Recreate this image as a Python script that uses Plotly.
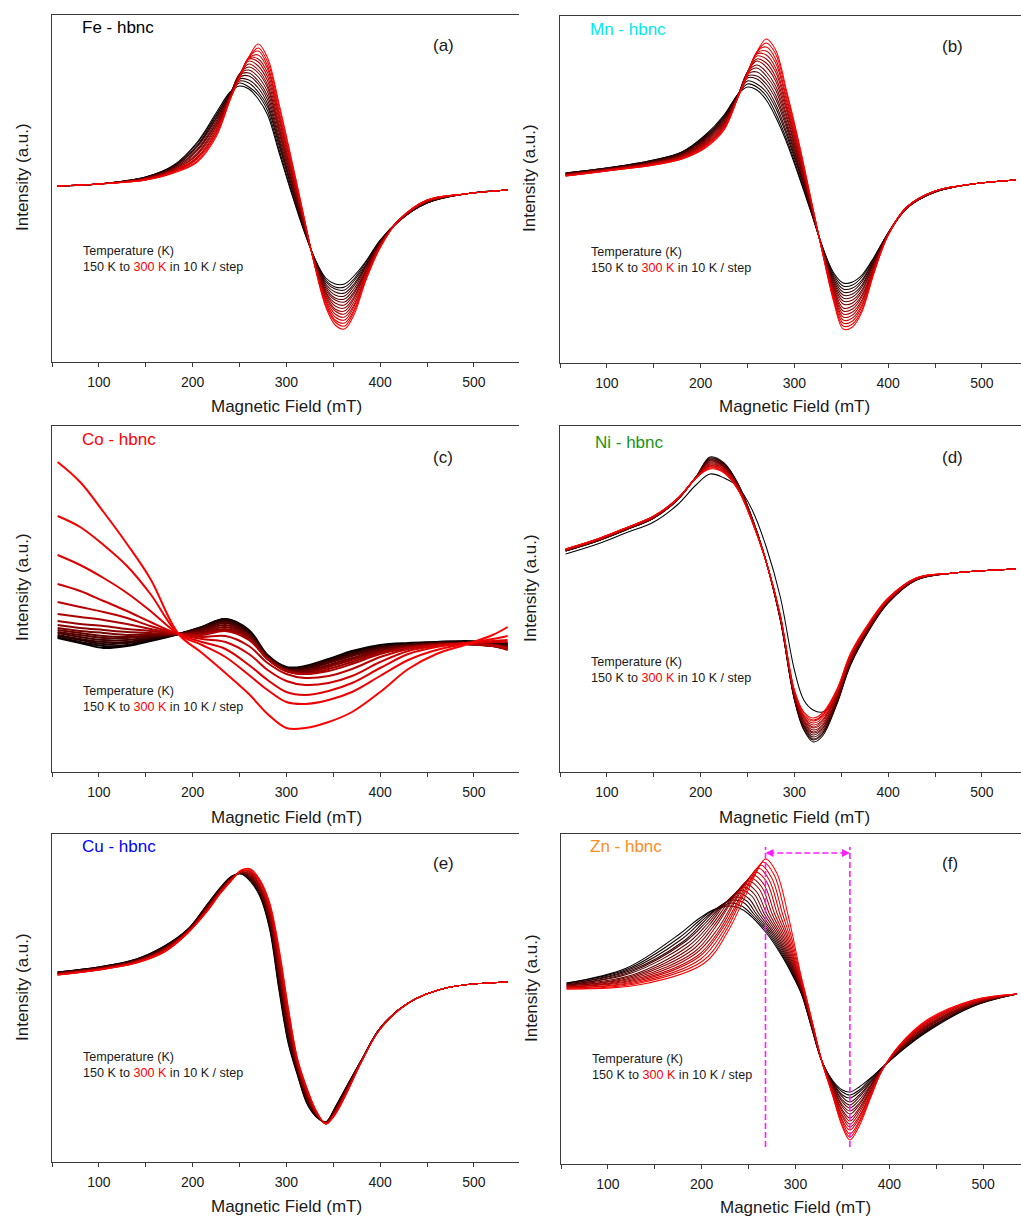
import plotly.graph_objects as go

W, H = 1021, 1216
FONT = "Liberation Sans, Arial, Helvetica, sans-serif"

temperatures_K = [150, 160, 170, 180, 190, 200, 210, 220, 230, 240, 250, 260, 270, 280, 290, 300]

# ---------------- (a) Fe - hbnc : intensity (a.u.) at each field, for the 16 temperatures ----------------
fe_field_mT = [56, 100, 150, 180, 205, 225, 240, 250, 260, 270, 280, 292, 305, 318, 330, 342, 352, 362, 372, 385,
               400, 420, 450, 490, 536]
fe_intensity_by_field = [
    [2] * 16,
    [4] * 16,
    [11, 11, 11, 10, 10, 10, 10, 10, 9, 9, 9, 9, 9, 8, 8, 8],
    [23, 22, 22, 21, 21, 20, 20, 19, 19, 18, 18, 17, 17, 16, 16, 15],
    [46, 45, 43, 42, 41, 39, 38, 37, 35, 34, 33, 31, 30, 29, 27, 26],
    [75, 73, 72, 70, 69, 67, 65, 64, 62, 61, 59, 57, 56, 54, 53, 51],
    [96, 95, 95, 94, 94, 93, 93, 92, 92, 91, 91, 90, 90, 89, 89, 88],
    [102, 105, 107, 109, 111, 113, 114, 114, 114, 113, 112, 111, 110, 110, 110, 110],
    [99, 101, 105, 108, 112, 115, 118, 121, 124, 127, 129, 130, 130, 131, 131, 131],
    [89, 93, 96, 100, 104, 107, 111, 115, 118, 122, 126, 129, 133, 137, 140, 144],
    [73, 77, 81, 84, 88, 92, 96, 100, 103, 107, 111, 115, 119, 122, 126, 130],
    [36, 39, 43, 46, 49, 52, 56, 59, 62, 65, 69, 72, 75, 78, 82, 85],
    [-4, -2, 1, 3, 5, 8, 10, 12, 15, 17, 19, 22, 24, 26, 29, 31],
    [-41, -40, -39, -38, -37, -36, -35, -34, -32, -31, -30, -29, -28, -27, -26, -25],
    [-70, -70, -71, -71, -72, -72, -73, -73, -74, -74, -75, -75, -76, -76, -77, -77],
    [-90, -92, -94, -96, -98, -100, -102, -104, -105, -107, -109, -111, -113, -115, -117, -119],
    [-96, -99, -101, -104, -107, -110, -112, -115, -118, -121, -123, -126, -129, -132, -134, -137],
    [-96, -99, -102, -105, -108, -111, -114, -117, -120, -123, -126, -129, -132, -135, -138, -141],
    [-88, -91, -93, -96, -98, -101, -104, -106, -109, -111, -114, -117, -119, -122, -124, -127],
    [-73, -74, -76, -77, -78, -79, -81, -82, -83, -84, -86, -87, -88, -89, -91, -92],
    [-52, -53, -53, -54, -54, -55, -55, -56, -56, -57, -57, -58, -58, -59, -59, -60],
    [-33, -33, -33, -33, -33, -33, -33, -33, -32, -32, -32, -32, -32, -32, -32, -32],
    [-15, -15, -15, -14, -14, -14, -14, -14, -13, -13, -13, -13, -13, -12, -12, -12],
    [-6] * 16,
    [-2] * 16,
]

# ---------------- (b) Mn - hbnc ----------------
mn_field_mT = [56, 100, 150, 180, 205, 225, 240, 250, 260, 270, 280, 292, 305, 318, 330, 342, 352, 362, 372, 385,
               400, 420, 450, 490, 536]
mn_intensity_by_field = [
    [9, 9, 9, 8, 8, 8, 8, 8, 7, 7, 7, 7, 7, 6, 6, 6],
    [14, 14, 14, 13, 13, 13, 13, 13, 12, 12, 12, 12, 12, 11, 11, 11],
    [22, 22, 21, 21, 21, 20, 20, 20, 19, 19, 19, 18, 18, 18, 17, 17],
    [30, 30, 29, 29, 28, 28, 27, 27, 26, 26, 25, 25, 24, 24, 23, 23],
    [47, 46, 45, 44, 44, 43, 42, 41, 40, 39, 38, 37, 37, 36, 35, 34],
    [67, 66, 65, 64, 63, 62, 61, 60, 59, 58, 57, 56, 55, 54, 53, 52],
    [88, 88, 88, 87, 87, 87, 87, 87, 86, 86, 86, 86, 86, 85, 85, 85],
    [95, 98, 101, 104, 106, 108, 109, 110, 110, 110, 110, 109, 108, 107, 107, 107],
    [92, 95, 98, 103, 106, 110, 114, 117, 121, 123, 126, 128, 129, 130, 130, 130],
    [82, 86, 90, 94, 98, 102, 106, 110, 115, 119, 123, 127, 131, 135, 139, 143],
    [65, 69, 74, 78, 83, 87, 92, 96, 101, 105, 110, 114, 119, 123, 128, 132],
    [39, 42, 46, 49, 53, 56, 59, 63, 66, 70, 73, 76, 80, 83, 87, 90],
    [5, 7, 10, 12, 14, 16, 19, 21, 23, 25, 28, 30, 32, 35, 37, 39],
    [-31, -30, -29, -28, -28, -27, -26, -25, -24, -23, -22, -21, -21, -20, -19, -18],
    [-65, -65, -66, -66, -67, -67, -67, -68, -68, -69, -69, -69, -70, -70, -71, -71],
    [-91, -93, -95, -97, -99, -101, -103, -105, -106, -108, -110, -112, -114, -116, -118, -120],
    [-101, -104, -107, -110, -113, -116, -119, -122, -126, -129, -132, -135, -138, -141, -144, -147],
    [-100, -103, -106, -109, -112, -115, -118, -121, -124, -127, -130, -133, -136, -139, -142, -145],
    [-93, -95, -98, -100, -103, -105, -108, -110, -113, -115, -118, -120, -123, -125, -128, -130],
    [-75, -76, -77, -78, -79, -80, -81, -82, -84, -85, -86, -87, -88, -89, -90, -91],
    [-51, -51, -51, -51, -52, -52, -52, -52, -52, -52, -52, -52, -53, -53, -53, -53],
    [-26, -26, -26, -26, -26, -26, -26, -26, -25, -25, -25, -25, -25, -25, -25, -25],
    [-10, -10, -10, -10, -10, -10, -10, -10, -9, -9, -9, -9, -9, -9, -9, -9],
    [-2] * 16,
    [2] * 16,
]

# ---------------- (c) Co - hbnc : one row per temperature ----------------
co_field_mT = [56, 80, 105, 130, 155, 185, 210, 235, 260, 280, 300, 320, 345, 370, 400, 430, 460, 490, 520, 536]
co_intensity_by_temp = [
    [-4, -9, -14, -12, -7, 0, 7, 15, 4, -21, -33, -32, -25, -17, -11, -9, -8, -7, -8, -9],
    [-3, -8, -12, -11, -6, 0, 7, 15, 3, -22, -34, -33, -26, -18, -12, -10, -8, -8, -9, -10],
    [-2, -6, -10, -9, -5, 0, 6, 14, 2, -22, -34, -33, -26, -19, -13, -10, -9, -8, -9, -10],
    [-1, -5, -8, -8, -4, 0, 6, 13, 1, -23, -35, -34, -27, -20, -13, -11, -9, -9, -10, -11],
    [1, -3, -6, -6, -3, 0, 5, 12, 0, -23, -35, -35, -28, -21, -14, -11, -9, -9, -10, -12],
    [2, -1, -4, -4, -2, 0, 4, 11, -1, -24, -36, -36, -29, -22, -15, -12, -10, -9, -11, -12],
    [4, 1, -2, -3, -1, 0, 3, 9, -2, -24, -36, -37, -31, -24, -16, -12, -10, -10, -11, -13],
    [6, 3, 1, -1, 0, 0, 2, 7, -3, -25, -37, -38, -32, -25, -17, -13, -10, -10, -12, -14],
    [9, 6, 4, 2, 1, 0, 1, 5, -4, -25, -37, -39, -33, -26, -18, -13, -11, -10, -12, -15],
    [13, 10, 8, 5, 3, 0, 0, 4, -5, -25, -37, -40, -35, -28, -19, -14, -11, -10, -12, -15],
    [20, 17, 14, 10, 5, 0, -1, 3, -6, -25, -37, -40, -37, -30, -20, -14, -11, -10, -12, -16],
    [32, 27, 22, 16, 8, 0, -3, -2, -12, -29, -40, -44, -42, -35, -23, -15, -11, -10, -11, -14],
    [50, 43, 33, 23, 12, 0, -5, -8, -20, -36, -47, -51, -49, -42, -28, -17, -12, -9, -8, -8],
    [79, 69, 56, 41, 23, 0, -8, -15, -31, -46, -58, -61, -57, -49, -34, -20, -13, -9, -7, -6],
    [118, 107, 89, 68, 40, 0, -11, -23, -41, -56, -68, -70, -66, -58, -42, -26, -16, -10, -5, -2],
    [172, 152, 122, 90, 55, 0, -19, -39, -60, -80, -94, -94, -88, -78, -58, -35, -20, -11, -1, 7],
]

# ---------------- (d) Ni - hbnc ----------------
ni_field_mT = [56, 90, 120, 150, 175, 195, 210, 225, 240, 255, 270, 285, 300, 310, 320, 330, 345, 360, 380, 400,
               430, 470, 536]
ni_intensity_by_field = [
    [16, 19, 19, 19, 19, 20, 20, 20, 20, 20, 20, 20, 21, 21, 21, 21],
    [26, 29, 29, 29, 29, 30, 30, 30, 30, 30, 30, 30, 31, 31, 31, 31],
    [37, 40, 40, 40, 40, 41, 41, 41, 41, 41, 41, 41, 42, 42, 42, 42],
    [48, 52, 52, 52, 52, 53, 53, 53, 53, 53, 53, 53, 54, 54, 54, 54],
    [65, 70, 70, 70, 70, 70, 70, 70, 70, 71, 71, 71, 71, 71, 71, 71],
    [85, 93, 93, 93, 93, 93, 93, 93, 93, 92, 92, 92, 92, 92, 92, 92],
    [96, 113, 112, 111, 110, 110, 109, 108, 107, 106, 105, 104, 104, 103, 102, 101],
    [92, 107, 106, 106, 105, 104, 103, 103, 102, 101, 101, 100, 99, 98, 98, 97],
    [83, 86, 86, 85, 85, 84, 84, 83, 83, 83, 82, 82, 81, 81, 80, 80],
    [60, 52, 52, 51, 51, 51, 51, 50, 50, 50, 49, 49, 49, 49, 48, 48],
    [23, 8, 8, 8, 8, 8, 8, 8, 8, 8, 8, 8, 8, 8, 8, 8],
    [-27, -50, -50, -49, -49, -49, -48, -48, -48, -47, -47, -46, -46, -46, -45, -45],
    [-100, -130, -129, -129, -128, -127, -126, -126, -125, -124, -124, -123, -122, -121, -121, -120],
    [-130, -160, -159, -157, -156, -155, -154, -152, -151, -150, -148, -147, -146, -145, -143, -142],
    [-140, -172, -170, -169, -167, -165, -163, -162, -160, -158, -157, -155, -153, -151, -150, -148],
    [-142, -166, -164, -163, -161, -159, -158, -156, -155, -153, -151, -150, -148, -146, -145, -143],
    [-128, -135, -134, -133, -132, -131, -130, -129, -128, -126, -125, -124, -123, -122, -121, -120],
    [-88, -95, -94, -93, -92, -92, -91, -90, -89, -88, -87, -86, -86, -85, -84, -83],
    [-55, -60, -59, -59, -58, -58, -57, -57, -56, -55, -55, -54, -54, -53, -53, -52],
    [-30, -33, -33, -32, -32, -32, -31, -31, -31, -30, -30, -30, -29, -29, -28, -28],
    [-9, -10, -10, -10, -10, -9, -9, -9, -9, -9, -9, -9, -8, -8, -8, -8],
    [-3] * 16,
    [1] * 16,
]

# ---------------- (e) Cu - hbnc ----------------
cu_field_mT = [56, 100, 140, 170, 195, 215, 230, 242, 252, 262, 272, 282, 292, 302, 312, 322, 332, 342, 352, 365,
               380, 400, 430, 470, 536]
cu_intensity_by_field = [
    [10, 10, 10, 9, 9, 9, 9, 9, 8, 8, 8, 8, 8, 7, 7, 7],
    [15, 15, 15, 14, 14, 14, 14, 14, 13, 13, 13, 13, 13, 12, 12, 12],
    [23, 23, 22, 22, 22, 22, 21, 21, 21, 21, 20, 20, 20, 20, 19, 19],
    [36, 36, 35, 35, 34, 34, 34, 33, 33, 32, 32, 32, 31, 31, 30, 30],
    [53, 53, 52, 52, 52, 52, 51, 51, 51, 51, 50, 50, 50, 50, 49, 49],
    [77, 77, 76, 76, 75, 75, 74, 74, 73, 73, 72, 72, 71, 71, 70, 70],
    [95, 95, 94, 94, 93, 93, 93, 92, 92, 91, 91, 91, 90, 90, 89, 89],
    [106, 106, 105, 105, 105, 105, 104, 104, 104, 104, 103, 103, 103, 103, 102, 102],
    [108, 108, 109, 109, 109, 109, 110, 110, 110, 110, 111, 111, 111, 111, 112, 112],
    [100, 101, 102, 103, 103, 104, 105, 106, 107, 108, 109, 110, 110, 111, 112, 113],
    [85, 86, 87, 88, 90, 91, 92, 93, 94, 95, 96, 97, 99, 100, 101, 102],
    [53, 55, 57, 58, 60, 62, 64, 66, 67, 69, 71, 73, 75, 76, 78, 80],
    [-8, -5, -2, 1, 3, 6, 9, 12, 15, 18, 21, 24, 26, 29, 32, 35],
    [-62, -60, -57, -55, -52, -50, -47, -45, -42, -40, -37, -35, -32, -30, -27, -25],
    [-94, -93, -92, -91, -89, -88, -87, -86, -85, -84, -83, -82, -80, -79, -78, -77],
    [-122, -121, -120, -119, -118, -117, -116, -115, -113, -112, -111, -110, -109, -108, -107, -106],
    [-135, -135, -134, -134, -133, -133, -133, -132, -132, -131, -131, -131, -130, -130, -129, -129],
    [-140, -140, -140, -140, -141, -141, -141, -141, -141, -141, -141, -141, -142, -142, -142, -142],
    [-125, -126, -126, -127, -127, -128, -128, -129, -129, -130, -130, -131, -131, -132, -132, -133],
    [-103, -103, -104, -104, -105, -105, -106, -106, -107, -107, -108, -108, -109, -109, -110, -110],
    [-78, -78, -78, -78, -79, -79, -79, -79, -79, -79, -79, -79, -80, -80, -80, -80],
    [-46, -46, -46, -46, -46, -46, -46, -46, -47, -47, -47, -47, -47, -47, -47, -47],
    [-21] * 16,
    [-6] * 16,
    [0] * 16,
]

# ---------------- (f) Zn - hbnc : feature points whose field shifts with temperature ----------------
zn_field_shifting = [
    [56] * 16,
    [120, 121, 122, 123, 124, 125, 126, 127, 128, 129, 130, 131, 132, 133, 134, 135],
    [175, 177, 179, 181, 182, 184, 186, 188, 190, 192, 193, 195, 197, 199, 201, 203],
    [195, 197, 199, 201, 204, 206, 208, 210, 212, 214, 217, 219, 221, 223, 225, 227],
    [210, 212, 215, 217, 220, 222, 224, 227, 229, 231, 234, 236, 239, 241, 243, 246],
    [220, 223, 225, 228, 230, 233, 235, 238, 240, 243, 245, 248, 250, 253, 256, 258],
    [228, 230.7, 233.3, 236, 238.7, 241.3, 244, 246.7, 249.3, 252, 254.7, 257.3, 260, 262.7, 265.3, 268],
    [240, 242.7, 245.3, 248, 250.7, 253.3, 256, 258.7, 261.3, 264, 266.7, 269.3, 272, 274.7, 277.3, 280],
    [250, 252.8, 255.6, 258.3, 261.1, 263.9, 266.7, 269.5, 272.3, 275.1, 277.8, 280.6, 283.4, 286.2, 289, 291.8],
    [269.8, 271.6, 273.4, 275.2, 276.9, 278.7, 280.5, 282.3, 284.1, 285.9, 287.7, 289.5, 291.2, 293, 294.8, 296.6],
    [284.2, 285.3, 286.4, 287.6, 288.7, 289.8, 290.9, 292, 293.2, 294.3, 295.4, 296.5, 297.6, 298.8, 299.9, 301],
    [296.1, 296.7, 297.4, 298, 298.6, 299.2, 299.9, 300.5, 301.1, 301.7, 302.4, 303, 303.6, 304.2, 304.9, 305.5],
    [306.3, 306.6, 306.9, 307.2, 307.5, 307.8, 308.1, 308.4, 308.6, 308.9, 309.2, 309.5, 309.8, 310.1, 310.4, 310.7],
    [316, 316.2, 316.3, 316.5, 316.7, 316.8, 317, 317.2, 317.3, 317.5, 317.7, 317.8, 318, 318.2, 318.3, 318.5],
]
zn_field_fixed = [328, 340, 350, 358, 368, 380, 392, 410, 440, 490, 536]
zn_intensity_by_point = [
    [11, 11, 10, 10, 9, 9, 9, 8, 8, 7, 7, 7, 6, 6, 5, 5],
    [26, 25, 24, 23, 22, 21, 19, 18, 17, 16, 15, 14, 13, 12, 11, 9.5],
    [59, 57, 55, 53, 52, 50, 48, 46, 44, 42, 40, 38, 37, 35, 33, 31],
    [74, 73, 72, 71, 71, 70, 69, 68, 67, 66, 65, 64, 64, 63, 62, 61],
    [83, 84, 85, 86, 87, 88, 89, 90, 90, 91, 92, 93, 94, 95, 96, 97],
    [86, 88, 91, 93, 95, 98, 100, 102, 105, 107, 109, 112, 114, 116, 119, 121],
    [88, 91, 94, 97, 101, 104, 107, 110, 113, 116, 119, 122, 126, 129, 132, 135],
    [86, 88, 91, 93, 95, 98, 100, 102, 105, 107, 109, 112, 114, 116, 119, 121],
    [80] * 16,
    [60] * 16,
    [40] * 16,
    [20] * 16,
    [0] * 16,
    [-30] * 16,
    [-67] * 16,
    [-87, -88, -89, -90, -91, -92, -93, -94, -96, -97, -98, -99, -100, -101, -102, -103],
    [-96, -98, -101, -103, -106, -108, -111, -113, -116, -118, -121, -123, -126, -128, -131, -133],
    [-98, -101, -104, -108, -111, -114, -117, -120, -124, -127, -130, -133, -136, -140, -143, -146],
    [-93, -96, -98, -101, -103, -106, -109, -111, -114, -116, -119, -122, -124, -127, -129, -132],
    [-84, -85, -87, -88, -89, -91, -92, -93, -95, -96, -97, -99, -100, -101, -103, -104],
    [-74, -74, -74, -75, -75, -75, -75, -75, -76, -76, -76, -76, -76, -77, -77, -77],
    [-59, -59, -58, -58, -57, -57, -56, -56, -55, -55, -54, -54, -53, -53, -52, -52],
    [-38, -37, -36, -36, -35, -34, -33, -32, -32, -31, -30, -29, -28, -28, -27, -26],
    [-12, -12, -11, -11, -11, -10, -10, -10, -9, -9, -8, -8, -7, -7, -6, -6],
    [0] * 16,
]
zn_marker_fields_mT = [268, 358]

x_tick_step = 100
x_minor_step = 50
# --------------------------------------------------------------------------------------------------------


def by_temperature(cols):
    return [[c[k] for c in cols] for k in range(len(temperatures_K))]


def curve_color(k):
    return "rgb({},0,0)".format(round(255 * k / (len(temperatures_K) - 1)))


def px_x(v):
    return v / W


def px_y(v):
    return 1 - v / H


series = {
    1: [(fe_field_mT, r) for r in by_temperature(fe_intensity_by_field)],
    2: [(mn_field_mT, r) for r in by_temperature(mn_intensity_by_field)],
    3: [(co_field_mT, r) for r in co_intensity_by_temp],
    4: [(ni_field_mT, r) for r in by_temperature(ni_intensity_by_field)],
    5: [(cu_field_mT, r) for r in by_temperature(cu_intensity_by_field)],
}
zn_x_rows = [row + zn_field_fixed for row in by_temperature(zn_field_shifting)]
zn_y_rows = by_temperature(zn_intensity_by_point)
series[6] = list(zip(zn_x_rows, zn_y_rows))

# panel layout (pixel boxes), axis ranges
panels = {
    1: dict(xd=(52, 519), yd=(15, 362), xr=(50, 548.1), yr=(-174, 173)),
    2: dict(xd=(560, 1021), yd=(16, 363), xr=(50, 541.7), yr=(-181, 166)),
    3: dict(xd=(52, 519), yd=(426, 772), xr=(50, 548.1), yr=(-138, 208)),
    4: dict(xd=(560, 1021), yd=(426, 772), xr=(50, 541.7), yr=(-202, 144)),
    5: dict(xd=(52, 519), yd=(834, 1162), xr=(50, 548.1), yr=(-180, 148)),
    6: dict(xd=(561, 1021), yd=(834, 1164), xr=(50, 540.4), yr=(-170, 160)),
}

fig = go.Figure()
for i in range(1, 7):
    suffix = "" if i == 1 else str(i)
    lw = 2.0 if i == 3 else 1.05
    for k, (xs, ys) in enumerate(series[i]):
        fig.add_trace(go.Scatter(
            x=xs, y=ys, mode="lines",
            line=dict(color=curve_color(k), width=lw, shape="spline", smoothing=1.0),
            name="{} K".format(temperatures_K[k]),
            xaxis="x" + suffix, yaxis="y" + suffix, hoverinfo="skip", showlegend=False))

AX = "#3a3a3a"
layout = dict(width=W, height=H, margin=dict(l=0, r=0, t=0, b=0),
              paper_bgcolor="white", plot_bgcolor="white", showlegend=False,
              font=dict(family=FONT, color="#1a1a1a"))
for i in range(1, 7):
    p = panels[i]
    suffix = "" if i == 1 else str(i)
    layout["xaxis" + suffix] = dict(
        domain=[px_x(p["xd"][0]), px_x(p["xd"][1])], anchor="y" + suffix, range=list(p["xr"]),
        tick0=0, dtick=x_tick_step, ticks="outside", ticklen=4, tickwidth=1.2, tickcolor=AX,
        minor=dict(dtick=x_minor_step, ticks="outside", ticklen=4, tickwidth=1.2, tickcolor=AX, showgrid=False),
        showline=True, linecolor=AX, linewidth=1.4, mirror=True, showgrid=False, zeroline=False,
        tickfont=dict(family=FONT, size=14, color="#1a1a1a"), ticklabelstandoff=3)
    layout["yaxis" + suffix] = dict(
        domain=[px_y(p["yd"][1]), px_y(p["yd"][0])], anchor="x" + suffix, range=list(p["yr"]),
        showline=True, linecolor=AX, linewidth=1.4, mirror=False, ticks="", showticklabels=False,
        showgrid=False, zeroline=False)

ann = []
# axis titles
for cx, cy in [(286, 407), (794, 407), (286, 817), (794, 817), (286, 1206), (795, 1207)]:
    ann.append(dict(text="Magnetic Field (mT)", x=px_x(cx), y=px_y(cy), xref="paper", yref="paper",
                    xanchor="center", yanchor="middle", showarrow=False,
                    font=dict(family=FONT, size=17, color="#1a1a1a")))
for cx, cy in [(22, 177), (530, 178), (22, 587), (530, 588), (22, 987), (531, 988)]:
    ann.append(dict(text="Intensity (a.u.)", x=px_x(cx), y=px_y(cy), xref="paper", yref="paper",
                    xanchor="center", yanchor="middle", showarrow=False, textangle=-90,
                    font=dict(family=FONT, size=17, color="#1a1a1a")))
# sample names
for txt, col, lx, cy in [("Fe - hbnc", "#000000", 80, 28), ("Mn - hbnc", "#00E8F0", 588, 29),
                         ("Co - hbnc", "#FF0000", 80, 439), ("Ni - hbnc", "#149614", 593, 442),
                         ("Cu - hbnc", "#0000FF", 80, 846), ("Zn - hbnc", "#FF8C1E", 588, 846)]:
    ann.append(dict(text=txt, x=px_x(lx), y=px_y(cy), xref="paper", yref="paper",
                    xanchor="left", yanchor="middle", showarrow=False,
                    font=dict(family=FONT, size=17, color=col)))
# panel letters
for txt, cx, cy in [("(a)", 443, 46), ("(b)", 952, 47), ("(c)", 443, 457), ("(d)", 952, 457),
                    ("(e)", 443, 863), ("(f)", 950, 863)]:
    ann.append(dict(text=txt, x=px_x(cx), y=px_y(cy), xref="paper", yref="paper",
                    xanchor="center", yanchor="middle", showarrow=False,
                    font=dict(family=FONT, size=17, color="#1a1a1a")))
# temperature notes
for lx, y1 in [(81, 251), (589, 252), (81, 691), (589, 662), (81, 1057), (590, 1059)]:
    ann.append(dict(text="Temperature (K)", x=px_x(lx), y=px_y(y1), xref="paper", yref="paper",
                    xanchor="left", yanchor="middle", showarrow=False,
                    font=dict(family=FONT, size=12.6, color="#1a1a1a")))
    ann.append(dict(text="150 K to <span style='color:#FF0000'>300 K</span> in 10 K / step",
                    x=px_x(lx), y=px_y(y1 + 16), xref="paper", yref="paper",
                    xanchor="left", yanchor="middle", showarrow=False,
                    font=dict(family=FONT, size=12.6, color="#1a1a1a")))

# Zn peak-to-peak markers (magenta dashed)
MAG = "#FF1CFF"
shapes = []
for xf in zn_marker_fields_mT:
    shapes.append(dict(type="line", xref="x6", yref="y6", x0=xf, x1=xf, y0=-153, y1=147,
                       line=dict(color=MAG, width=1.6, dash="6px,3px")))
shapes.append(dict(type="line", xref="x6", yref="y6", x0=zn_marker_fields_mT[0] + 3, x1=zn_marker_fields_mT[1] - 3,
                   y0=141, y1=141, line=dict(color=MAG, width=1.6, dash="6px,3px")))
ann.append(dict(x=zn_marker_fields_mT[0], y=141, ax=zn_marker_fields_mT[0] + 9, ay=141,
                xref="x6", yref="y6", axref="x6", ayref="y6", text="", showarrow=True,
                arrowhead=2, arrowsize=1, arrowwidth=1.6, arrowcolor=MAG))
ann.append(dict(x=zn_marker_fields_mT[1], y=141, ax=zn_marker_fields_mT[1] - 9, ay=141,
                xref="x6", yref="y6", axref="x6", ayref="y6", text="", showarrow=True,
                arrowhead=2, arrowsize=1, arrowwidth=1.6, arrowcolor=MAG))

layout["annotations"] = ann
layout["shapes"] = shapes
fig.update_layout(**layout)
fig.write_html("out.html", config={"displayModeBar": False},
               post_script="document.body.style.margin='0px';document.body.style.padding='0px';"
                           "document.body.style.overflow='hidden';")
